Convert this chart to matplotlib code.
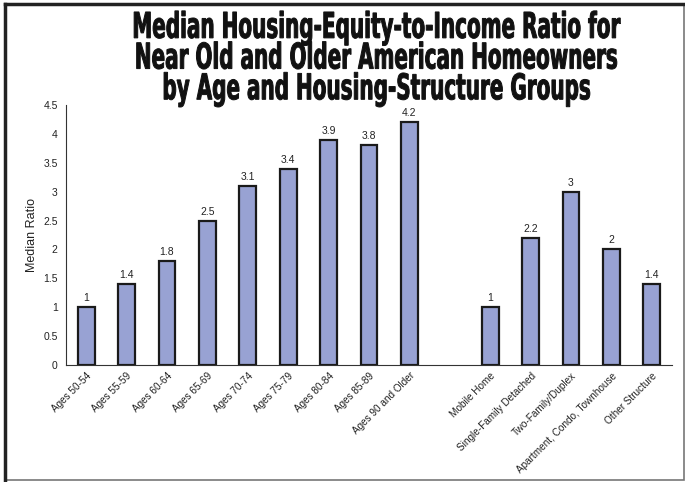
import matplotlib
matplotlib.use("Agg")
import matplotlib.pyplot as plt
from matplotlib.patches import Rectangle
from matplotlib.patheffects import AbstractPathEffect
from matplotlib.transforms import Affine2D
import numpy as np

categories = ["Ages 50-54", "Ages 55-59", "Ages 60-64", "Ages 65-69", "Ages 70-74",
              "Ages 75-79", "Ages 80-84", "Ages 85-89", "Ages 90 and Older", "",
              "Mobile Home", "Single-Family Detached", "Two-Family/Duplex",
              "Apartment, Condo, Townhouse", "Other Structure"]
values = [1, 1.4, 1.8, 2.5, 3.1, 3.4, 3.9, 3.8, 4.2, None, 1, 2.2, 3, 2, 1.4]
labels = ["1", "1.4", "1.8", "2.5", "3.1", "3.4", "3.9", "3.8", "4.2", "", "1", "2.2", "3", "2", "1.4"]
yticks = [0, 0.5, 1, 1.5, 2, 2.5, 3, 3.5, 4, 4.5]
ytick_labels = ["0", "0.5", "1", "1.5", "2", "2.5", "3", "3.5", "4", "4.5"]
title = ("Median Housing-Equity-to-Income Ratio for\n"
         "Near Old and Older American Homeowners\n"
         "by Age and Housing-Structure Groups")

plt.rcParams['font.family'] = ['Liberation Sans', 'DejaVu Sans']

W, H = 685, 482
fig = plt.figure(figsize=(W / 100, H / 100), dpi=100)


class VStretch(AbstractPathEffect):
    """Stretch glyphs vertically about a fixed display y and embolden them."""
    def __init__(self, s, cy, stroke=0.7):
        super().__init__()
        self.s = s
        self.cy = cy
        self.stroke = stroke

    def draw_path(self, renderer, gc, tpath, affine, rgbFace=None):
        st = Affine2D().translate(0, -self.cy).scale(1, self.s).translate(0, self.cy)
        gc0 = renderer.new_gc()
        gc0.copy_properties(gc)
        gc0.set_linewidth(self.stroke)
        gc0.set_joinstyle("miter")
        if rgbFace is not None:
            gc0.set_foreground(rgbFace)
        renderer.draw_path(gc0, tpath, affine + st, rgbFace)
        gc0.restore()


# frame
fig.add_artist(Rectangle((5 / W, 2 / H), 679 / W, 476 / H, transform=fig.transFigure,
                         fill=False, edgecolor="#777777", linewidth=1.2))
fig.add_artist(plt.Line2D([5 / W, 5 / W], [2 / H, 478 / H], transform=fig.transFigure,
                          color="#222222", linewidth=2.5))
fig.add_artist(plt.Line2D([5 / W, 684 / W], [478 / H, 478 / H], transform=fig.transFigure,
                          color="#222222", linewidth=2.5))

ax = fig.add_axes([66 / W, 1 - 365 / H, 606 / W, 260 / H])
x = np.arange(len(categories))
vals = [v if v is not None else 0 for v in values]
bars = ax.bar(x, vals, width=0.42, color="#98A2D3", edgecolor="#1a1a1a", linewidth=1.6)
for i, (v, lab) in enumerate(zip(values, labels)):
    if v is None:
        bars[i].set_visible(False)
        continue
    ax.text(i, v + 0.07, lab, ha="center", va="bottom", fontsize=7.5, color="#222222")

ax.set_xlim(-0.5, len(categories) - 0.5)
ax.set_ylim(0, 4.5)
ax.set_yticks(yticks)
ax.set_yticklabels(ytick_labels, fontsize=7.5, color="#222222")
ax.set_xticks(x)
ax.set_xticklabels(categories, rotation=45, ha="right", rotation_mode="anchor",
                   fontsize=7.2, color="#222222")
ax.tick_params(axis="x", length=0, pad=4)
ax.tick_params(axis="y", length=0, pad=6)
ax.spines["top"].set_visible(False)
ax.spines["right"].set_visible(False)
ax.spines["left"].set_color("#333333")
ax.spines["bottom"].set_color("#333333")
ax.set_ylabel("Median Ratio", fontsize=9, color="#222222", labelpad=4)

cy_fig = 1 - 59 / H
fig.text(377 / W, cy_fig, title, ha="center", va="center", fontsize=16, fontweight="bold",
         family=["Liberation Sans Narrow", "DejaVu Sans"], fontstretch="condensed",
         linespacing=0.95, color="#111111",
         path_effects=[VStretch(1.6, cy_fig * H)])

fig.savefig("out.png", dpi=100)
